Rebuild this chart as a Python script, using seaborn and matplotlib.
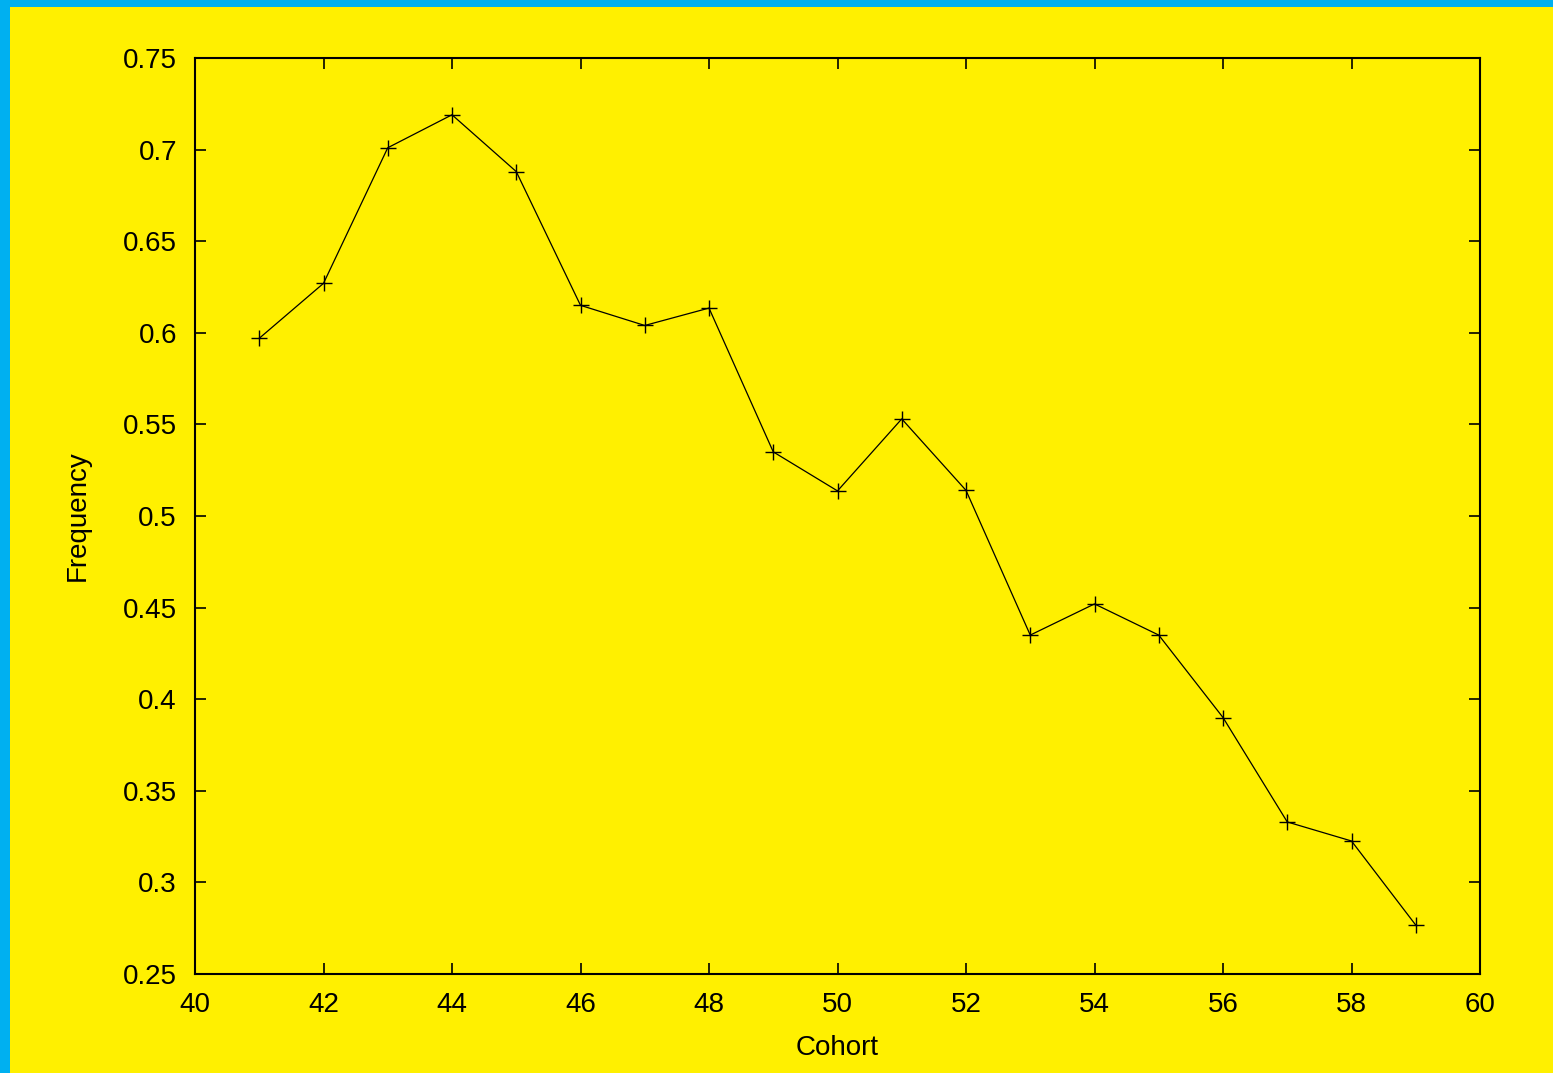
import numpy as np
import pandas as pd
import matplotlib
matplotlib.use("Agg")
import matplotlib.pyplot as plt
import seaborn as sns
from matplotlib.patches import Rectangle
from matplotlib.ticker import FormatStrFormatter, MultipleLocator

# data
cohort = [41, 42, 43, 44, 45, 46, 47, 48, 49, 50, 51, 52, 53, 54, 55, 56, 57, 58, 59]
frequency = [0.597, 0.627, 0.701, 0.719, 0.688, 0.615, 0.604, 0.6135, 0.535, 0.5137,
             0.553, 0.514, 0.435, 0.452, 0.435, 0.390, 0.333, 0.3226, 0.2767]

yellow = "#FFF000"
blue = "#00B0F0"

sns.set_style("ticks")
plt.rcParams['font.family'] = ['Liberation Sans', 'DejaVu Sans']

fig = plt.figure(figsize=(15.53, 10.73), dpi=100)
fig.patch.set_facecolor(blue)
# yellow canvas, leaving a blue strip on the left and top
fig.patches.append(Rectangle((10 / 1553, 0), 1 - 10 / 1553, 1 - 7 / 1073,
                             transform=fig.transFigure, facecolor=yellow,
                             edgecolor="none", zorder=-10))

ax = fig.add_axes([195 / 1553, 1 - 974 / 1073, (1480 - 195) / 1553, (974 - 58) / 1073])
ax.set_facecolor(yellow)

df = pd.DataFrame({"Cohort": cohort, "Frequency": frequency})
sns.lineplot(data=df, x="Cohort", y="Frequency", ax=ax, color="black",
             linewidth=0.9, marker="+", markersize=11, markeredgewidth=1.0,
             markeredgecolor="black")

ax.set_xlim(40, 60)
ax.set_ylim(0.25, 0.75)
ax.xaxis.set_major_locator(MultipleLocator(2))
ax.yaxis.set_major_locator(MultipleLocator(0.05))
ax.yaxis.set_major_formatter(FormatStrFormatter("%g"))

for s in ax.spines.values():
    s.set_visible(True)
    s.set_linewidth(1.5)
    s.set_color("black")

ax.tick_params(direction="in", length=8, width=1.2, top=True, right=True,
               labelsize=20, colors="black")
ax.tick_params(axis="x", pad=13)
ax.tick_params(axis="y", pad=13)

ax.set_xlabel("Cohort", fontsize=20, labelpad=12, color="black")
ax.set_ylabel("Frequency", fontsize=20, labelpad=23, color="black")

fig.savefig("out.png", dpi=100, facecolor=fig.get_facecolor())
